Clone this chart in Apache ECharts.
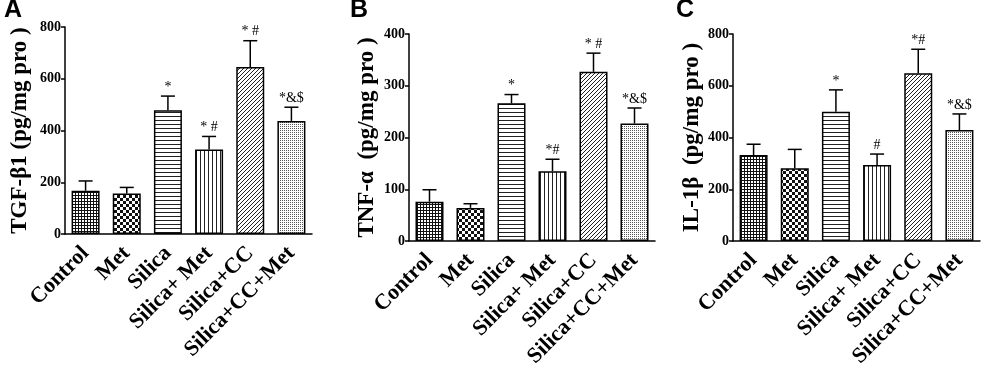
<!DOCTYPE html>
<html>
<head>
<meta charset="utf-8">
<script src="https://cdn.jsdelivr.net/npm/echarts@6/dist/echarts.min.js"></script>
<style>
  html, body { margin: 0; padding: 0; background: #fff; }
  #chart { width: 982px; height: 374px; }
</style>
</head>
<body>
<div id="chart"></div>
<script>
// groups on the x axis
var categories = ['Control', 'Met', 'Silica', 'Silica+ Met', 'Silica+CC', 'Silica+CC+Met'];

// panel A: TGF-β1
var tgfMean = [167, 157, 478, 327, 645, 437];
var tgfErr  = [38, 23, 55, 50, 102, 53];
var tgfMarks = ['', '', '*', '* #', '* #', '*&$'];

// panel B: TNF-α
var tnfMean = [76, 64, 266, 135, 327, 227];
var tnfErr  = [23, 8, 17, 23, 36, 30];
var tnfMarks = ['', '', '*', '*#', '* #', '*&$'];

// panel C: IL-1β
var il1Mean = [332, 281, 500, 294, 648, 429];
var il1Err  = [42, 73, 84, 42, 93, 62];
var il1Marks = ['', '', '*', '#', '*#', '*&$'];

var SERIF = '"Liberation Serif", "Times New Roman", serif';

// fill patterns, one per group
function makePattern(kind) {
  var c = document.createElement('canvas');
  var ctx;
  var i;
  if (kind === 'grid') {
    c.width = 3; c.height = 3;
    ctx = c.getContext('2d');
    ctx.fillStyle = '#fff'; ctx.fillRect(0, 0, 3, 3);
    ctx.fillStyle = '#111';
    ctx.fillRect(0, 0, 3, 1);
    ctx.fillRect(0, 0, 1, 3);
  } else if (kind === 'checker') {
    c.width = 6; c.height = 6;
    ctx = c.getContext('2d');
    ctx.fillStyle = '#fff'; ctx.fillRect(0, 0, 6, 6);
    ctx.fillStyle = '#111';
    ctx.fillRect(0, 0, 3, 3);
    ctx.fillRect(3, 3, 3, 3);
  } else if (kind === 'hlines') {
    c.width = 4; c.height = 4;
    ctx = c.getContext('2d');
    ctx.fillStyle = '#fff'; ctx.fillRect(0, 0, 4, 4);
    ctx.fillStyle = '#222'; ctx.fillRect(0, 0, 4, 1);
  } else if (kind === 'vlines') {
    c.width = 4; c.height = 4;
    ctx = c.getContext('2d');
    ctx.fillStyle = '#fff'; ctx.fillRect(0, 0, 4, 4);
    ctx.fillStyle = '#222'; ctx.fillRect(0, 0, 1, 4);
  } else if (kind === 'diag') {
    c.width = 4; c.height = 4;
    ctx = c.getContext('2d');
    ctx.fillStyle = '#fff'; ctx.fillRect(0, 0, 4, 4);
    ctx.fillStyle = '#222';
    for (i = 0; i < 4; i++) ctx.fillRect(i, 3 - i, 1, 1);
  } else {
    c.width = 2; c.height = 2;
    ctx = c.getContext('2d');
    ctx.fillStyle = '#fff'; ctx.fillRect(0, 0, 2, 2);
    ctx.fillStyle = '#555'; ctx.fillRect(0, 0, 1, 1);
  }
  return { image: c, repeat: 'repeat' };
}

var patterns = ['grid', 'checker', 'hlines', 'vlines', 'diag', 'dots'].map(makePattern);

var panels = [
  { mean: tgfMean, err: tgfErr, marks: tgfMarks, name: 'TGF-β1 (pg/mg pro )', max: 800, step: 200,
    grid: { left: 65, right: 670, top: 27, height: 207 }, gap: 33 },
  { mean: tnfMean, err: tnfErr, marks: tnfMarks, name: 'TNF-α  (pg/mg pro )', max: 400, step: 100,
    grid: { left: 409, right: 327, top: 34, height: 207 }, gap: 30 },
  { mean: il1Mean, err: il1Err, marks: il1Marks, name: 'IL-1β  (pg/mg pro )', max: 800, step: 200,
    grid: { left: 733, right: 2, top: 34, height: 207 }, gap: 29 }
];

var grids = [], xAxes = [], yAxes = [], series = [];

panels.forEach(function (p, k) {
  grids.push(p.grid);
  xAxes.push({
    type: 'category',
    gridIndex: k,
    data: categories,
    axisLine: { lineStyle: { color: '#000', width: 1.5 } },
    axisTick: { alignWithLabel: true, length: 4, lineStyle: { color: '#000', width: 1.5 } },
    axisLabel: {
      rotate: 45,
      interval: 0,
      margin: 16,
      color: '#000',
      fontFamily: SERIF,
      fontWeight: 'bold',
      fontSize: 22
    }
  });
  yAxes.push({
    type: 'value',
    gridIndex: k,
    min: 0,
    max: p.max,
    interval: p.step,
    name: p.name,
    nameLocation: 'middle',
    nameGap: p.gap,
    nameRotate: 90,
    nameTextStyle: { color: '#000', fontFamily: SERIF, fontWeight: 'bold', fontSize: 23 },
    splitLine: { show: false },
    axisLine: { show: true, lineStyle: { color: '#000', width: 1.5 } },
    axisTick: { show: true, length: 4, lineStyle: { color: '#000', width: 1.5 } },
    axisLabel: { color: '#000', fontFamily: SERIF, fontWeight: 'bold', fontSize: 14, margin: 4 }
  });

  series.push({
    type: 'bar',
    xAxisIndex: k,
    yAxisIndex: k,
    barWidth: 28,
    silent: true,
    data: p.mean.map(function (v, i) {
      return { value: v, itemStyle: { color: patterns[i], borderColor: '#000', borderWidth: 1.5 } };
    })
  });

  // upward error bars with the significance marks on top
  series.push({
    type: 'custom',
    xAxisIndex: k,
    yAxisIndex: k,
    silent: true,
    z: 5,
    encode: { x: 0, y: 1 },
    data: p.mean.map(function (v, i) { return [i, v, p.err[i]]; }),
    renderItem: function (params, api) {
      var x = api.value(0);
      var m = api.value(1);
      var e = api.value(2);
      var lo = api.coord([x, m]);
      var hi = api.coord([x, m + e]);
      var half = 7;
      var st = { stroke: '#000', lineWidth: 1.5 };
      return {
        type: 'group',
        children: [
          { type: 'line', shape: { x1: lo[0], y1: lo[1], x2: hi[0], y2: hi[1] }, style: st },
          { type: 'line', shape: { x1: hi[0] - half, y1: hi[1], x2: hi[0] + half, y2: hi[1] }, style: st },
          {
            type: 'text',
            x: hi[0],
            y: hi[1] - 2,
            style: {
              text: p.marks[params.dataIndex],
              fill: '#000',
              font: '14px ' + SERIF,
              align: 'center',
              verticalAlign: 'bottom'
            }
          }
        ]
      };
    }
  });
});

var chart = echarts.init(document.getElementById('chart'), null, { renderer: 'canvas' });
chart.setOption({
  animation: false,
  backgroundColor: '#fff',
  grid: grids,
  xAxis: xAxes,
  yAxis: yAxes,
  series: series,
  graphic: [
    { type: 'text', left: 4, top: -2, style: { text: 'A', font: 'bold 25px "Liberation Sans", Arial, sans-serif', fill: '#000' } },
    { type: 'text', left: 350, top: -2, style: { text: 'B', font: 'bold 25px "Liberation Sans", Arial, sans-serif', fill: '#000' } },
    { type: 'text', left: 676, top: -2, style: { text: 'C', font: 'bold 25px "Liberation Sans", Arial, sans-serif', fill: '#000' } }
  ]
});
</script>
</body>
</html>
